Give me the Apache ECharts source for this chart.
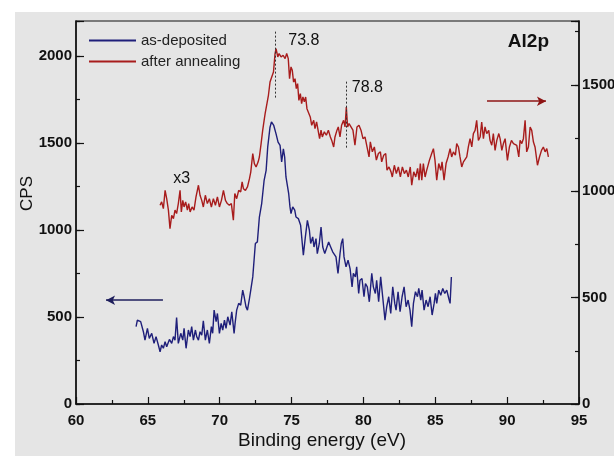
<!DOCTYPE html>
<html><head><meta charset="utf-8">
<script src="https://cdn.jsdelivr.net/npm/echarts@6/dist/echarts.min.js"></script>
<style>
html,body{margin:0;padding:0;background:#fff;}
#bg{position:absolute;left:15px;top:12px;width:599px;height:444px;background:#e5e5e5;}
#chart{position:absolute;left:0;top:0;width:614px;height:456px;}
</style></head><body>
<div id="bg"></div><div id="chart"></div>
<script>
const seriesNames = ['as-deposited', 'after annealing'];

const blueEnergy = [64.18,64.27,64.5,64.69,64.8,64.97,65.1,65.27,65.43,65.57,65.73,65.85,65.96,66.08,66.2,66.31,66.5,66.66,66.78,66.89,67.0,67.12,67.29,67.43,67.52,67.66,67.82,67.94,68.05,68.17,68.31,68.4,68.52,68.63,68.75,68.86,69.0,69.14,69.28,69.42,69.51,69.61,69.75,69.84,69.98,70.1,70.21,70.33,70.44,70.56,70.72,70.84,71.0,71.07,71.18,71.32,71.46,71.6,71.7,71.83,71.93,72.07,72.16,72.3,72.39,72.48,72.62,72.76,72.92,73.09,73.23,73.34,73.5,73.6,73.69,73.76,73.83,73.92,74.06,74.2,74.31,74.43,74.52,74.61,74.71,74.8,74.89,74.96,75.08,75.22,75.31,75.47,75.63,75.73,75.82,75.96,76.1,76.24,76.33,76.47,76.56,76.7,76.79,76.93,77.05,77.17,77.31,77.44,77.58,77.72,77.86,77.99,78.09,78.23,78.37,78.46,78.56,78.65,78.79,78.93,79.07,79.21,79.3,79.44,79.53,79.67,79.76,79.9,80.04,80.14,80.27,80.41,80.58,80.69,80.83,80.92,81.06,81.2,81.34,81.5,81.62,81.76,81.9,82.04,82.18,82.27,82.41,82.55,82.69,82.83,82.97,83.11,83.24,83.36,83.48,83.62,83.76,83.85,83.99,84.08,84.22,84.36,84.5,84.64,84.78,84.92,85.01,85.1,85.24,85.38,85.52,85.66,85.8,85.94,86.03,86.12];
const blueCPS = [444,482,473,415,367,434,377,406,348,387,339,300,339,320,358,329,371,348,387,367,497,348,406,367,434,320,425,387,444,367,425,387,367,415,396,478,367,425,348,444,406,539,473,520,406,463,425,482,434,501,453,530,406,463,539,578,568,654,616,558,539,606,654,730,826,922,931,1074,1151,1285,1342,1476,1590,1620,1629,1600,1610,1552,1504,1485,1390,1466,1418,1304,1294,1208,1132,1094,1132,1113,1074,1065,1027,1036,855,960,1055,998,922,960,902,950,864,922,1017,902,864,855,931,902,874,883,845,750,864,922,950,845,788,826,778,673,750,730,788,635,711,721,616,692,673,587,750,673,635,711,587,730,616,482,559,616,520,673,578,539,645,530,616,673,559,597,539,444,578,645,616,664,597,654,539,597,559,616,511,578,635,578,654,625,664,635,654,606,578,730];

const redEnergy = [65.85,65.96,66.08,66.2,66.31,66.43,66.54,66.66,66.78,66.89,67.0,67.12,67.24,67.33,67.43,67.52,67.63,67.75,67.84,67.94,68.08,68.21,68.35,68.52,68.63,68.75,68.86,69.0,69.14,69.28,69.42,69.56,69.7,69.84,69.98,70.12,70.26,70.4,70.53,70.67,70.81,70.95,71.05,71.18,71.32,71.46,71.56,71.65,71.79,71.93,72.07,72.16,72.3,72.41,72.53,72.67,72.76,72.88,72.99,73.09,73.16,73.39,73.5,73.62,73.74,73.85,73.92,74.04,74.13,74.27,74.41,74.55,74.66,74.77,74.86,74.96,75.05,75.14,75.24,75.33,75.42,75.51,75.61,75.7,75.79,75.89,75.98,76.07,76.16,76.3,76.4,76.54,76.63,76.74,76.86,76.95,77.05,77.14,77.28,77.42,77.56,77.7,77.79,77.93,78.02,78.16,78.25,78.37,78.48,78.62,78.72,78.81,78.9,79.0,79.13,79.27,79.41,79.55,79.69,79.83,79.97,80.11,80.25,80.39,80.48,80.62,80.76,80.9,81.04,81.18,81.27,81.41,81.55,81.64,81.78,81.92,82.01,82.15,82.29,82.43,82.57,82.71,82.85,82.99,83.12,83.26,83.36,83.5,83.64,83.77,83.87,83.96,84.06,84.17,84.29,84.4,84.59,84.75,84.87,84.98,85.1,85.24,85.38,85.47,85.61,85.75,85.89,86.03,86.14,86.26,86.4,86.49,86.61,86.72,86.84,86.96,87.07,87.19,87.3,87.42,87.54,87.65,87.77,87.88,88.0,88.12,88.23,88.35,88.46,88.58,88.72,88.81,88.93,89.04,89.16,89.28,89.42,89.51,89.63,89.74,89.86,90.02,90.16,90.3,90.44,90.55,90.67,90.81,90.9,91.02,91.13,91.25,91.36,91.48,91.6,91.71,91.83,91.94,92.11,92.25,92.39,92.52,92.64,92.76,92.87];
const redCPS = [934,950,918,1004,965,911,824,887,871,911,895,942,1004,903,957,926,950,911,942,903,926,911,973,1028,981,957,926,981,942,965,926,965,934,973,926,957,1004,957,942,934,942,864,989,965,1004,997,1044,1012,1004,1020,1059,1090,1177,1130,1114,1137,1161,1224,1286,1333,1365,1451,1513,1521,1560,1647,1670,1631,1647,1631,1639,1623,1647,1623,1529,1584,1568,1513,1529,1482,1506,1427,1459,1412,1443,1420,1443,1388,1380,1349,1310,1333,1294,1326,1318,1247,1287,1255,1279,1263,1287,1255,1240,1208,1255,1287,1302,1255,1310,1333,1302,1396,1302,1318,1326,1287,1216,1302,1310,1287,1247,1255,1208,1161,1232,1185,1208,1146,1177,1185,1138,1169,1177,1099,1114,1091,1067,1122,1083,1114,1067,1114,1083,1099,1067,1114,1028,1091,1067,1107,1052,1130,1052,1130,1067,1098,1145,1177,1200,1145,1052,1130,1098,1138,1052,1130,1161,1200,1161,1185,1169,1224,1208,1161,1114,1138,1145,1161,1208,1247,1208,1271,1286,1333,1239,1255,1325,1247,1302,1271,1286,1239,1216,1271,1192,1239,1271,1247,1192,1224,1247,1145,1208,1239,1224,1231,1216,1161,1239,1224,1247,1333,1185,1208,1302,1286,1231,1208,1122,1161,1192,1208,1185,1200,1161];

// annotations (data coordinates)
const peakLabels = ['73.8', '78.8'];
const peakLines = [[73.85, 1750, 1440], [78.81, 1515, 1200]];
const peakTextPos = [[74.77, 1706], [79.19, 1486]];
const scaleLabel = ['x3', 66.77, 1058];
const leftArrow = [[66.05, 596], [62.09, 596]];
const rightArrow = [[88.6, 1423], [92.7, 1423]];

const F = '"Liberation Sans", Arial, Helvetica, sans-serif';
const BLUE = '#1f1f7a', RED = '#a81c1c', INK = '#111';

const chart = echarts.init(document.getElementById('chart'));
const tickStyle = {color: INK, width: 1.2};
function mainY(max, pos, extra) {
  return Object.assign({
    type: 'value', min: 0, max: max, interval: 500, position: pos,
    axisLine: {show: true, lineStyle: {color: INK, width: 1.5}},
    axisTick: {show: true, inside: true, length: 8, lineStyle: tickStyle},
    axisLabel: {show: true, margin: pos === 'left' ? 4 : 3, fontFamily: F, fontSize: 15, fontWeight: 'bold', color: INK,
      formatter: v => (v % 500 === 0 ? String(v) : '')},
    splitLine: {show: false}
  }, extra || {});
}
function minorY(max, pos) {
  return {type: 'value', min: 0, max: max, interval: 250, position: pos,
    axisLine: {show: false}, axisTick: {show: true, inside: true, length: 4, lineStyle: tickStyle},
    axisLabel: {show: false}, splitLine: {show: false}};
}

chart.setOption({
  animation: false,
  backgroundColor: 'transparent',
  textStyle: {fontFamily: F},
  grid: {left: 76, right: 35, top: 21, bottom: 52, outerBoundsMode: 'none', containLabel: false,
    show: true, borderColor: INK, borderWidth: 1.2, backgroundColor: 'transparent'},
  title: {text: 'Al2p', right: 65, top: 32, padding: 0,
    textStyle: {fontFamily: F, fontSize: 19, fontWeight: 'bold', color: INK}},
  legend: {left: 89, top: 33, orient: 'vertical', padding: 0, itemWidth: 47, itemHeight: 2, itemGap: 6, icon: 'rect',
    textStyle: {fontFamily: F, fontSize: 15, color: '#222', lineHeight: 15}, data: seriesNames},
  xAxis: {
    type: 'value', min: 60, max: 95, interval: 5,
    name: 'Binding energy (eV)', nameLocation: 'middle', nameGap: 27, nameMoveOverlap: false,
    nameTextStyle: {fontFamily: F, fontSize: 19, color: INK, padding: [0, 11, 0, 0]},
    axisLine: {lineStyle: {color: INK, width: 1.5}},
    axisTick: {inside: true, length: 7, lineStyle: tickStyle},
    minorTick: {show: true, splitNumber: 2, length: 4, lineStyle: tickStyle},
    axisLabel: {margin: 9, fontFamily: F, fontSize: 15, fontWeight: 'bold', color: INK},
    splitLine: {show: false}
  },
  yAxis: [
    mainY(2200, 'left', {name: 'CPS', nameLocation: 'middle', nameGap: 40, nameMoveOverlap: false,
      nameTextStyle: {fontFamily: F, fontSize: 17, color: INK, padding: [0, 0, 0, 38]}}),
    mainY(1800, 'right'),
    minorY(2200, 'left'),
    minorY(1800, 'right')
  ],
  series: [
    {
      name: seriesNames[0], type: 'line', yAxisIndex: 0, showSymbol: false, silent: true,
      data: blueEnergy.map((e, i) => [e, blueCPS[i]]),
      lineStyle: {color: BLUE, width: 1.4}, itemStyle: {color: BLUE},
      markLine: {silent: true, symbol: ['none', 'arrow'], symbolSize: [7, 9], label: {show: false},
        lineStyle: {color: '#1e1e5c', width: 1.5, type: 'solid'},
        data: [[{coord: leftArrow[0]}, {coord: leftArrow[1]}]]}
    },
    {
      name: seriesNames[1], type: 'line', yAxisIndex: 1, showSymbol: false, silent: true,
      data: redEnergy.map((e, i) => [e, redCPS[i]]),
      lineStyle: {color: RED, width: 1.4}, itemStyle: {color: RED},
      markLine: {silent: true, symbol: 'none', label: {show: false},
        lineStyle: {color: '#333', width: 1, type: [2, 2]},
        data: peakLines.map(p => [{coord: [p[0], p[1]]}, {coord: [p[0], p[2]]}]).concat([
          [{coord: rightArrow[0], symbol: 'none', lineStyle: {color: '#8e1414', width: 1.5, type: 'solid'}},
           {coord: rightArrow[1], symbol: 'arrow', symbolSize: [7, 9]}]
        ])},
      markPoint: {symbol: 'circle', symbolSize: 0, silent: true,
        label: {show: true, position: 'inside', align: 'left', verticalAlign: 'middle', fontFamily: F, fontSize: 16, color: INK, formatter: '{b}'},
        data: peakLabels.map((t, i) => ({name: t, coord: peakTextPos[i]})).concat([
          {name: scaleLabel[0], coord: [scaleLabel[1], scaleLabel[2]]}])}
    }
  ]
});
</script>
</body></html>
